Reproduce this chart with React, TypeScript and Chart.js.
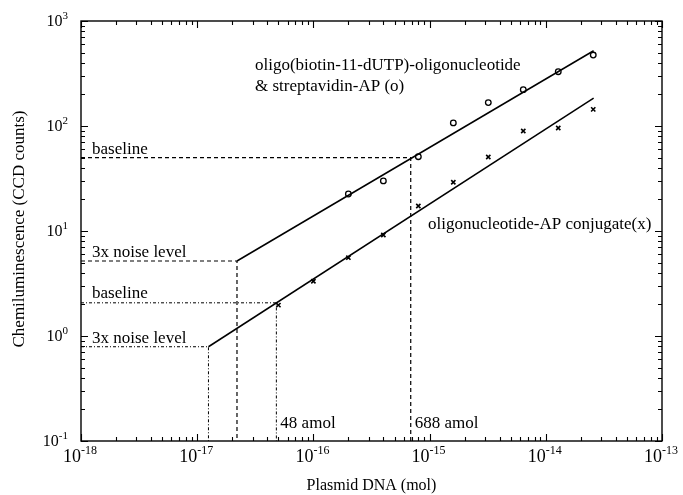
import React, { useEffect, useRef } from 'react';
import { Chart, registerables } from 'chart.js';

Chart.register(...registerables);

// ---- data ----
const circleX = [2e-16, 4e-16, 8e-16, 1.6e-15, 3.2e-15, 6.4e-15, 1.28e-14, 2.56e-14];
const circleY = [22.5, 30, 51, 107, 167, 222, 329, 474];
const crossX = [5e-17, 1e-16, 2e-16, 4e-16, 8e-16, 1.6e-15, 3.2e-15, 6.4e-15, 1.28e-14, 2.56e-14];
const crossY = [1.97, 3.32, 5.57, 9.17, 17.3, 29.1, 50.7, 89.6, 95.7, 144];
const upperFitX = [2.2e-17, 2.58e-14];
const upperFitY = [5.18, 521];
const lowerFitX = [1.25e-17, 2.58e-14];
const lowerFitY = [0.79, 184];
const upperBaselineX = 6.88e-16;
const upperBaselineY = 50;
const upperNoiseX = 2.2e-17;
const upperNoiseY = 5.18;
const lowerBaselineX = 4.8e-17;
const lowerBaselineY = 2.07;
const lowerNoiseX = 1.25e-17;
const lowerNoiseY = 0.79;
const xMin = 1e-18;
const xMax = 1e-13;
const yMin = 1e-1;
const yMax = 1e3;
const xTickExps = ['-18', '-17', '-16', '-15', '-14', '-13'];
const yTickExps = ['-1', '0', '1', '2', '3'];
const xTitle = 'Plasmid DNA (mol)';
const yTitle = 'Chemiluminescence (CCD counts)';

const FONT = '"Liberation Serif", "Times New Roman", serif';

const pts = (xs: number[], ys: number[]) => xs.map((x, i) => ({ x, y: ys[i] }));
const refLine = (x: number, y: number) => [
  { x: xMin, y },
  { x, y },
  { x, y: yMin },
];

const decoPlugin = {
  id: 'deco',
  afterDraw(chart: any) {
    const ctx = chart.ctx as CanvasRenderingContext2D;
    const xs = chart.scales.x;
    const ys = chart.scales.y;
    const { left, right, top, bottom } = chart.chartArea;
    ctx.save();
    ctx.strokeStyle = '#000';
    ctx.fillStyle = '#000';
    ctx.lineWidth = 1.4;
    ctx.strokeRect(left, top, right - left, bottom - top);
    ctx.lineWidth = 1.1;
    // x ticks
    for (let d = -18; d <= -13; d++) {
      for (let m = 1; m <= 9; m++) {
        const v = m * Math.pow(10, d);
        if (v < xMin * 0.999 || v > xMax * 1.001) continue;
        const p = Math.round(xs.getPixelForValue(v)) + 0.5;
        const len = m === 1 ? 7 : 4;
        ctx.beginPath();
        ctx.moveTo(p, bottom);
        ctx.lineTo(p, bottom - len);
        ctx.moveTo(p, top);
        ctx.lineTo(p, top + len);
        ctx.stroke();
      }
    }
    // y ticks
    for (let d = -1; d <= 3; d++) {
      for (let m = 1; m <= 9; m++) {
        const v = m * Math.pow(10, d);
        if (v < yMin * 0.999 || v > yMax * 1.001) continue;
        const p = Math.round(ys.getPixelForValue(v)) + 0.5;
        const len = m === 1 ? 7 : 4;
        ctx.beginPath();
        ctx.moveTo(left, p);
        ctx.lineTo(left + len, p);
        ctx.moveTo(right, p);
        ctx.lineTo(right - len, p);
        ctx.stroke();
      }
    }
    ctx.textBaseline = 'alphabetic';
    ctx.textAlign = 'left';
    // x tick labels: "10" ends at the tick, exponent follows
    xTickExps.forEach((e) => {
      const p = xs.getPixelForValue(Math.pow(10, Number(e)));
      ctx.font = `18px ${FONT}`;
      const bw = ctx.measureText('10').width;
      ctx.fillText('10', p - bw, bottom + 21);
      ctx.font = `12px ${FONT}`;
      ctx.fillText(e, p, bottom + 13);
    });
    // y tick labels
    yTickExps.forEach((e) => {
      const p = ys.getPixelForValue(Math.pow(10, Number(e)));
      ctx.font = `16px ${FONT}`;
      const bw = ctx.measureText('10').width;
      ctx.font = `11px ${FONT}`;
      const ew = ctx.measureText(e).width;
      const x1 = left - 13;
      ctx.font = `16px ${FONT}`;
      ctx.fillText('10', x1 - ew - bw, p + 5);
      ctx.font = `11px ${FONT}`;
      ctx.fillText(e, x1 - ew, p - 2);
    });
    // axis titles
    ctx.font = `16px ${FONT}`;
    ctx.textAlign = 'center';
    ctx.textBaseline = 'middle';
    ctx.fillText(xTitle, (left + right) / 2, bottom + 45);
    ctx.save();
    ctx.translate(20, (top + bottom) / 2 - 2);
    ctx.rotate(-Math.PI / 2);
    ctx.font = `17px ${FONT}`;
    ctx.fillText(yTitle, 0, 0);
    ctx.restore();
    // annotations
    ctx.font = `17px ${FONT}`;
    ctx.textAlign = 'left';
    ctx.textBaseline = 'alphabetic';
    const ann: [string, number, number][] = [
      ['baseline', left + 11, ys.getPixelForValue(upperBaselineY) - 4],
      ['3x noise level', left + 11, ys.getPixelForValue(upperNoiseY) - 4],
      ['baseline', left + 11, ys.getPixelForValue(lowerBaselineY) - 5],
      ['3x noise level', left + 11, ys.getPixelForValue(lowerNoiseY) - 4],
      ['48 amol', xs.getPixelForValue(lowerBaselineX) + 4, bottom - 13],
      ['688 amol', xs.getPixelForValue(upperBaselineX) + 4, bottom - 13],
      ['oligo(biotin-11-dUTP)-oligonucleotide', 255, 70],
      ['& streptavidin-AP (o)', 255, 91],
      ['oligonucleotide-AP conjugate(x)', 428, 229],
    ];
    ann.forEach(([t, x, y]) => ctx.fillText(t, x, y));
    ctx.restore();
  },
};

export default function App() {
  const ref = useRef<HTMLCanvasElement | null>(null);
  useEffect(() => {
    if (!ref.current) return;
    const lineDs = (data: any[], dash: number[], width = 1) => ({
      type: 'scatter' as const,
      data,
      showLine: true,
      borderColor: '#000',
      borderWidth: width,
      borderDash: dash,
      pointRadius: 0,
      fill: false,
    });
    const chart = new Chart(ref.current, {
      type: 'scatter',
      data: {
        datasets: [
          lineDs(refLine(upperBaselineX, upperBaselineY), [4, 3], 1.2),
          lineDs(refLine(upperNoiseX, upperNoiseY), [4, 3], 1.2),
          lineDs(refLine(lowerBaselineX, lowerBaselineY), [3, 2, 1, 2]),
          lineDs(refLine(lowerNoiseX, lowerNoiseY), [3, 2, 1, 2]),
          lineDs(pts(upperFitX, upperFitY), [], 1.5),
          lineDs(pts(lowerFitX, lowerFitY), [], 1.5),
          {
            data: pts(circleX, circleY),
            pointStyle: 'circle',
            pointRadius: 2.8,
            borderColor: '#000',
            backgroundColor: 'rgba(0,0,0,0)',
            borderWidth: 1.3,
          },
          {
            data: pts(crossX, crossY),
            pointStyle: 'crossRot',
            pointRadius: 3,
            borderColor: '#000',
            borderWidth: 1.6,
          },
        ],
      },
      options: {
        animation: false,
        responsive: false,
        events: [],
        layout: { padding: { left: 81, right: 21, top: 21, bottom: 54 } },
        plugins: { legend: { display: false }, tooltip: { enabled: false } },
        scales: {
          x: { type: 'logarithmic', min: xMin, max: xMax, display: false },
          y: { type: 'logarithmic', min: yMin, max: yMax, display: false },
        },
      },
      plugins: [decoPlugin],
    });
    return () => chart.destroy();
  }, []);
  return (
    <div style={{ position: 'fixed', left: 0, top: 0, width: 683, height: 495, background: '#fff' }}>
      <canvas ref={ref} width={683} height={495} style={{ width: 683, height: 495 }} />
    </div>
  );
}
